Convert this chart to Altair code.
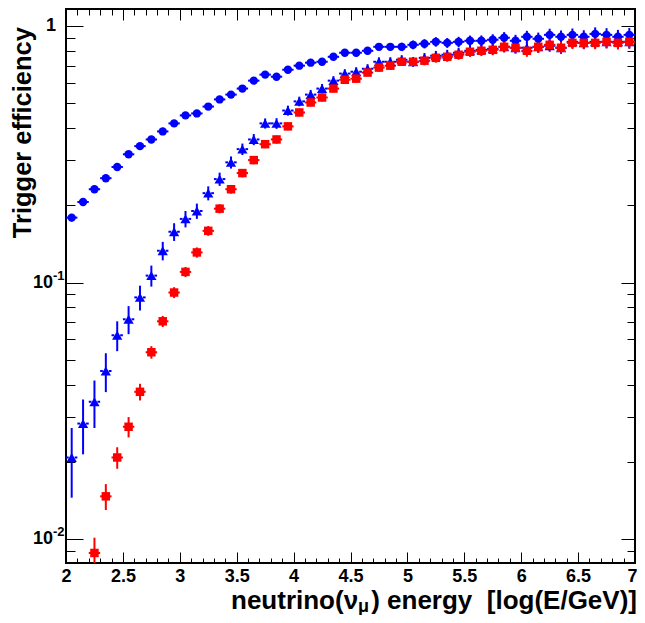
import altair as alt
import pandas as pd

# ---------------- data ----------------
bin_centers = [round(2.05 + 0.1 * i, 2) for i in range(50)]

eff_all = [0.179, 0.206, 0.231, 0.255, 0.282, 0.316, 0.340, 0.361, 0.388, 0.417,
           0.448, 0.456, 0.485, 0.517, 0.540, 0.570, 0.612, 0.646, 0.634, 0.675,
           0.700, 0.719, 0.725, 0.758, 0.786, 0.786, 0.800, 0.829, 0.829, 0.829,
           0.844, 0.852, 0.867, 0.859, 0.867, 0.875, 0.875, 0.883, 0.899, 0.875,
           0.907, 0.891, 0.923, 0.907, 0.923, 0.907, 0.931, 0.923, 0.907, 0.923]
err_all = [0.006, 0.006, 0.007, 0.007, 0.008, 0.008, 0.009, 0.009, 0.010, 0.010,
           0.011, 0.011, 0.012, 0.012, 0.013, 0.014, 0.015, 0.016, 0.017, 0.018,
           0.019, 0.020, 0.021, 0.022, 0.023, 0.025, 0.026, 0.028, 0.029, 0.031,
           0.033, 0.035, 0.037, 0.038, 0.040, 0.042, 0.043, 0.045, 0.047, 0.048,
           0.050, 0.051, 0.052, 0.053, 0.054, 0.055, 0.056, 0.057, 0.058, 0.058]

eff_trig = [0.0208, 0.0282, 0.0343, 0.0452, 0.0623, 0.0719, 0.0875, 0.1064, 0.133, 0.1577,
            0.177, 0.190, 0.223, 0.253, 0.294, 0.331, 0.361, 0.417, 0.417, 0.468,
            0.508, 0.540, 0.570, 0.612, 0.652, 0.663, 0.681, 0.725, 0.725, 0.738,
            0.725, 0.751, 0.765, 0.772, 0.786, 0.800, 0.807, 0.814, 0.829, 0.822,
            0.822, 0.829, 0.837, 0.822, 0.867, 0.859, 0.867, 0.867, 0.867, 0.867]
err_trig = [0.0063, 0.0068, 0.0072, 0.0078, 0.0083, 0.009, 0.0097, 0.010, 0.011, 0.0125,
            0.013, 0.013, 0.014, 0.015, 0.016, 0.017, 0.018, 0.019, 0.020, 0.021,
            0.022, 0.023, 0.024, 0.025, 0.026, 0.027, 0.028, 0.029, 0.030, 0.031,
            0.032, 0.033, 0.034, 0.035, 0.036, 0.037, 0.038, 0.039, 0.040, 0.041,
            0.042, 0.043, 0.044, 0.045, 0.046, 0.047, 0.048, 0.049, 0.050, 0.051]

eff_red = [None, None, 0.00883, 0.01468, 0.0208, 0.0274, 0.0375, 0.0535, 0.0706, 0.0914,
           0.110, 0.131, 0.159, 0.194, 0.231, 0.267, 0.300, 0.346, 0.361, 0.406,
           0.460, 0.503, 0.526, 0.570, 0.617, 0.623, 0.658, 0.688, 0.700, 0.725,
           0.725, 0.732, 0.751, 0.758, 0.772, 0.793, 0.800, 0.807, 0.829, 0.822,
           0.800, 0.829, 0.844, 0.822, 0.859, 0.859, 0.859, 0.867, 0.859, 0.867]
err_red = [None, None, 0.0013, 0.0017, 0.002, 0.0025, 0.0028, 0.003, 0.0035, 0.0045,
           0.005, 0.006, 0.007, 0.008, 0.009, 0.010, 0.011, 0.012, 0.013, 0.014,
           0.016, 0.017, 0.018, 0.019, 0.021, 0.022, 0.023, 0.025, 0.026, 0.027,
           0.029, 0.030, 0.032, 0.033, 0.034, 0.036, 0.037, 0.038, 0.040, 0.041,
           0.042, 0.043, 0.044, 0.045, 0.046, 0.047, 0.048, 0.049, 0.050, 0.051]

series_names = ["all", "trig", "red"]
series_colors = ["#0000ff", "#0000ff", "#ff0000"]

x_major = [2, 2.5, 3, 3.5, 4, 4.5, 5, 5.5, 6, 6.5, 7]
x_minor = [round(2 + 0.1 * i, 1) for i in range(1, 50) if i % 5]
y_major = [0.01, 0.1, 1]
y_minor = [0.009] + [round(k * 0.01, 2) for k in range(2, 10)] + [round(k * 0.1, 1) for k in range(2, 10)]

y_label_vals = [1, 0.1, 0.01]
y_label_base = ["1", "10", "10"]
y_label_exp = ["", "-1", "-2"]

y_title = "Trigger efficiency"
x_title_parts = ["neutrino(\u03bd", "\u03bc", ")\u00a0energy\u00a0\u00a0[log(E/GeV)]"]

BIN_HALF = 0.05   # half bin width (horizontal error bar)
GAP = 0.026       # gap left around the marker by the horizontal error bar

# ---------------- table ----------------
rows = []
for name, ys_, es_ in zip(series_names, [eff_all, eff_trig, eff_red], [err_all, err_trig, err_red]):
    for xc, v, e in zip(bin_centers, ys_, es_):
        if v is None:
            continue
        rows.append({"series": name, "x": xc, "y": v,
                     "xl1": xc - BIN_HALF, "xl2": xc - GAP,
                     "xr1": xc + GAP, "xr2": xc + BIN_HALF,
                     "lo": max(v - e, 1e-4), "hi": v + e})
df = pd.DataFrame(rows)

# ---------------- layout ----------------
W, H = 569, 554
FONT = "Liberation Sans"
xs = alt.Scale(domain=[2, 7], nice=False, zero=False)
ys = alt.Scale(type="log", domain=[0.00807, 1.164], nice=False)
color = alt.Color("series:N", scale=alt.Scale(domain=series_names, range=series_colors), legend=None)


def tick_axis(orient, offset, values, size):
    return alt.Axis(orient=orient, offset=offset, values=values, tickSize=size, labels=False,
                    domain=False, grid=False, title=None, tickColor="black", tickWidth=1)


label_axis_x = alt.Axis(orient="bottom", values=x_major, ticks=False, domain=False, grid=False,
                        title=None, labelFont=FONT, labelFontWeight="bold", labelFontSize=18,
                        labelColor="black", labelPadding=4, labelFlush=False, labelOverlap=False,
                        format="~g",
                        labelAlign={"condition": {"test": "datum.value >= 7", "value": "right"},
                                    "value": "center"},
                        labelOffset={"condition": {"test": "datum.value >= 7", "value": 2},
                                     "value": 0})

base = alt.Chart(df)

vbars = base.mark_rule(strokeWidth=2, clip=True).encode(
    x=alt.X("x:Q", scale=xs, axis=label_axis_x),
    y=alt.Y("lo:Q", scale=ys, axis=tick_axis("right", -W, y_major, 17)),
    y2="hi:Q",
    color=color,
)
hbars_l = base.mark_rule(strokeWidth=2, clip=True).encode(
    x=alt.X("xl1:Q", scale=xs, axis=tick_axis("top", -H, x_major, 11)),
    x2="xl2:Q",
    y=alt.Y("y:Q", scale=ys, axis=tick_axis("right", -W, y_minor, 9)),
    color=color,
)
hbars_r = base.mark_rule(strokeWidth=2, clip=True).encode(
    x=alt.X("xr1:Q", scale=xs, axis=None),
    x2="xr2:Q",
    y=alt.Y("y:Q", scale=ys, axis=None),
    color=color,
)
circles = base.transform_filter("datum.series == 'all'").mark_point(
    shape="circle", filled=True, size=70, opacity=1, clip=True).encode(
    x=alt.X("x:Q", scale=xs, axis=tick_axis("top", -H, x_minor, 5)),
    y=alt.Y("y:Q", scale=ys, axis=tick_axis("left", -W, y_major, 14)),
    color=color,
)
tris = base.transform_filter("datum.series == 'trig'").mark_point(
    shape="triangle-up", filled=True, size=105, opacity=1, clip=True).encode(
    x=alt.X("x:Q", scale=xs, axis=tick_axis("bottom", -H, x_major, 11)),
    y=alt.Y("y:Q", scale=ys, axis=tick_axis("left", -W, y_minor, 8)),
    color=color,
)
squares = base.transform_filter("datum.series == 'red'").mark_point(
    shape="square", filled=True, size=72, opacity=1, clip=True).encode(
    x=alt.X("x:Q", scale=xs, axis=tick_axis("bottom", -H, x_minor, 6)),
    y=alt.Y("y:Q", scale=ys, axis=None),
    color=color,
)

ylab = pd.DataFrame({"v": y_label_vals, "base": y_label_base, "exp": y_label_exp})
lab_style = dict(font=FONT, fontWeight="bold", color="black", baseline="middle")
ylab_one = alt.Chart(ylab).transform_filter("datum.exp == ''").mark_text(
    align="right", fontSize=18, **lab_style).encode(
    x=alt.value(-10), y=alt.Y("v:Q", scale=ys, axis=None), text="base:N")
ylab_ten = alt.Chart(ylab).transform_filter("datum.exp != ''").mark_text(
    align="right", fontSize=18, **lab_style).encode(
    x=alt.value(-13), y=alt.Y("v:Q", scale=ys, axis=None), text="base:N")
ylab_exp = alt.Chart(ylab).transform_filter("datum.exp != ''").mark_text(
    align="left", fontSize=13, dy=-7, **lab_style).encode(
    x=alt.value(-13), y=alt.Y("v:Q", scale=ys, axis=None), text="exp:N")

title_style = dict(font=FONT, fontWeight="bold", color="black")
ytitle = alt.Chart(pd.DataFrame({"t": [y_title]})).mark_text(
    align="right", baseline="alphabetic", angle=270, fontSize=25.5, **title_style).encode(
    x=alt.value(-35), y=alt.value(18), text="t:N")
xt1 = alt.Chart(pd.DataFrame({"t": [x_title_parts[0]]})).mark_text(
    align="left", baseline="alphabetic", fontSize=26, **title_style).encode(
    x=alt.value(165), y=alt.value(600), text="t:N")
xt2 = alt.Chart(pd.DataFrame({"t": [x_title_parts[1]]})).mark_text(
    align="left", baseline="alphabetic", fontSize=18, **title_style).encode(
    x=alt.value(292), y=alt.value(603), text="t:N")
xt3 = alt.Chart(pd.DataFrame({"t": [x_title_parts[2]]})).mark_text(
    align="right", baseline="alphabetic", fontSize=26, **title_style).encode(
    x=alt.value(571), y=alt.value(600), text="t:N")

chart = alt.layer(
    vbars, hbars_l, hbars_r, circles, tris, squares,
    ylab_one, ylab_ten, ylab_exp, ytitle, xt1, xt2, xt3
).resolve_axis(x="independent", y="independent").properties(
    width=W, height=H,
    autosize=alt.AutoSizeParams(type="none"),
    padding={"left": 58, "top": 1, "right": 2, "bottom": 52},
    background="white",
).configure_view(stroke="black", strokeWidth=2)

chart.save("out.html", embed_options={"renderer": "svg", "actions": False})
